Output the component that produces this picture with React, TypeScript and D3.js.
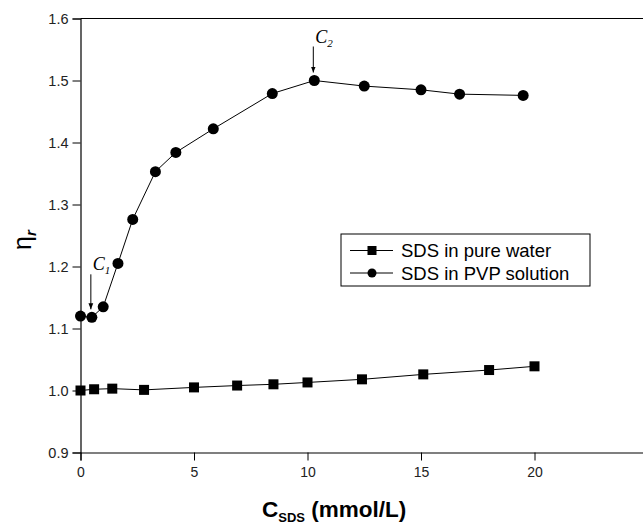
import React, { useEffect, useRef } from "react";
import * as d3 from "d3";

// SDS concentration (mmol/L) and relative viscosity
const pureX = [0, 0.6, 1.4, 2.8, 5.0, 6.9, 8.5, 10.0, 12.4, 15.1, 18.0, 20.0];
const pureY = [1.0, 1.002, 1.003, 1.001, 1.005, 1.008, 1.01, 1.013, 1.018, 1.026, 1.033, 1.039];
const pvpX = [0, 0.5, 1.0, 1.65, 2.3, 3.3, 4.2, 5.85, 8.45, 10.3, 12.5, 15.0, 16.7, 19.5];
const pvpY = [1.12, 1.118, 1.135, 1.205, 1.276, 1.353, 1.384, 1.422, 1.479, 1.5, 1.491, 1.485, 1.478, 1.476];

const xTicks = [0, 5, 10, 15, 20];
const xMinor = [2.5, 7.5, 12.5, 17.5, 22.5];
const yTicks = [0.9, 1.0, 1.1, 1.2, 1.3, 1.4, 1.5, 1.6];
const yMinor = [0.95, 1.05, 1.15, 1.25, 1.35, 1.45, 1.55];

const legendLabels = ["SDS in pure water", "SDS in PVP solution"];
// points marked C1 and C2
const annotations = [
  { idx: 1, sub: "1", gap: 47 },
  { idx: 9, sub: "2", gap: 38 },
];

const W = 643;
const H = 525;

const App = () => {
  const ref = useRef<SVGSVGElement>(null);

  useEffect(() => {
    const svg = d3.select(ref.current);
    svg.selectAll("*").remove();

    const x = d3.scaleLinear().domain([0, 25]).range([80.5, 648]);
    const y = d3.scaleLinear().domain([0.9, 1.6]).range([452.5, 18.5]);
    const font = "'Liberation Sans', Arial, sans-serif";

    // frame: top line (right side cropped off)
    svg.append("line")
      .attr("x1", x(0)).attr("x2", W)
      .attr("y1", y(1.6)).attr("y2", y(1.6))
      .attr("stroke", "#000").attr("stroke-width", 1.2);

    // bottom axis
    const gx = svg.append("g").attr("transform", `translate(0,${y(0.9)})`);
    gx.call(d3.axisBottom(x).tickValues(xMinor).tickSize(4).tickFormat(() => ""));
    gx.call(d3.axisBottom(x).tickValues(xTicks).tickSize(8).tickPadding(7).tickFormat(d3.format("d")));
    gx.selectAll(".domain").attr("stroke-width", 1.2);
    gx.selectAll("text").attr("font-family", font).attr("font-size", 14).attr("fill", "#222");

    // left axis
    const gy = svg.append("g").attr("transform", `translate(${x(0)},0)`);
    gy.call(d3.axisLeft(y).tickValues(yMinor).tickSize(4).tickFormat(() => ""));
    gy.call(d3.axisLeft(y).tickValues(yTicks).tickSize(8).tickPadding(4).tickFormat(d3.format(".1f")));
    gy.selectAll(".domain").attr("stroke-width", 1.2);
    gy.selectAll("text").attr("font-family", font).attr("font-size", 14.5).attr("fill", "#222");

    const line = d3.line<number>();

    // series: pure water (squares)
    const purePts = pureX.map((v, i) => [x(v), y(pureY[i])] as [number, number]);
    svg.append("path")
      .attr("d", line(purePts))
      .attr("fill", "none").attr("stroke", "#000").attr("stroke-width", 1);
    svg.append("g").selectAll("rect").data(purePts).join("rect")
      .attr("x", (d) => d[0] - 5).attr("y", (d) => d[1] - 5)
      .attr("width", 10).attr("height", 10).attr("fill", "#000");

    // series: PVP solution (circles)
    const pvpPts = pvpX.map((v, i) => [x(v), y(pvpY[i])] as [number, number]);
    svg.append("path")
      .attr("d", line(pvpPts))
      .attr("fill", "none").attr("stroke", "#000").attr("stroke-width", 1);
    svg.append("g").selectAll("circle").data(pvpPts).join("circle")
      .attr("cx", (d) => d[0]).attr("cy", (d) => d[1])
      .attr("r", 5.5).attr("fill", "#000");

    // C1 / C2 annotations
    svg.append("defs").append("marker")
      .attr("id", "arr").attr("viewBox", "0 0 10 10")
      .attr("refX", 10).attr("refY", 5)
      .attr("markerWidth", 6).attr("markerHeight", 8).attr("orient", "auto")
      .append("path").attr("d", "M0,1 L10,5 L0,9 Z").attr("fill", "#000");

    annotations.forEach(({ idx, sub, gap }) => {
      const px = pvpPts[idx][0] - 1;
      const py = pvpPts[idx][1];
      svg.append("line")
        .attr("x1", px).attr("x2", px)
        .attr("y1", py - gap + 4).attr("y2", py - 8)
        .attr("stroke", "#000").attr("stroke-width", 1)
        .attr("marker-end", "url(#arr)");
      const t = svg.append("text")
        .attr("x", px + 2).attr("y", py - gap)
        .attr("font-family", "'Liberation Serif', 'Times New Roman', serif")
        .attr("font-style", "italic").attr("font-size", 18).attr("fill", "#000");
      t.append("tspan").text("C");
      t.append("tspan").attr("dy", 4).attr("font-size", 11).text(sub);
    });

    // legend
    const lg = svg.append("g").attr("transform", "translate(341,234)");
    lg.append("rect").attr("width", 249).attr("height", 52)
      .attr("fill", "#fff").attr("stroke", "#000").attr("stroke-width", 1);
    legendLabels.forEach((lab, i) => {
      const ly = 16.5 + i * 22.5;
      lg.append("line").attr("x1", 9).attr("x2", 52).attr("y1", ly).attr("y2", ly)
        .attr("stroke", "#000").attr("stroke-width", 1);
      if (i === 0) {
        lg.append("rect").attr("x", 26.5).attr("y", ly - 4.5).attr("width", 9).attr("height", 9).attr("fill", "#000");
      } else {
        lg.append("circle").attr("cx", 31).attr("cy", ly).attr("r", 4.5).attr("fill", "#000");
      }
      lg.append("text").attr("x", 60).attr("y", ly + 6.5)
        .attr("font-family", font).attr("font-size", 18.5).attr("fill", "#000").text(lab);
    });

    // axis titles
    const xt = svg.append("text")
      .attr("x", 262).attr("y", 517)
      .attr("font-family", font).attr("font-weight", "bold").attr("font-size", 22.5).attr("fill", "#000");
    xt.append("tspan").text("C");
    xt.append("tspan").attr("dy", 5).attr("font-size", 13).text("SDS");
    xt.append("tspan").attr("dy", -5).text(" (mmol/L)");

    const yt = svg.append("text")
      .attr("transform", "translate(31,250) rotate(-90)")
      .attr("font-family", font).attr("font-size", 25).attr("fill", "#000");
    yt.append("tspan").text("η");
    yt.append("tspan").attr("dy", 5).attr("font-size", 15).attr("font-style", "italic").attr("font-weight", "bold").text("r");
  }, []);

  return (
    <div style={{ position: "fixed", left: 0, top: 0 }}>
      <svg ref={ref} width={W} height={H} style={{ display: "block", background: "#fff" }} />
    </div>
  );
};

export default App;
